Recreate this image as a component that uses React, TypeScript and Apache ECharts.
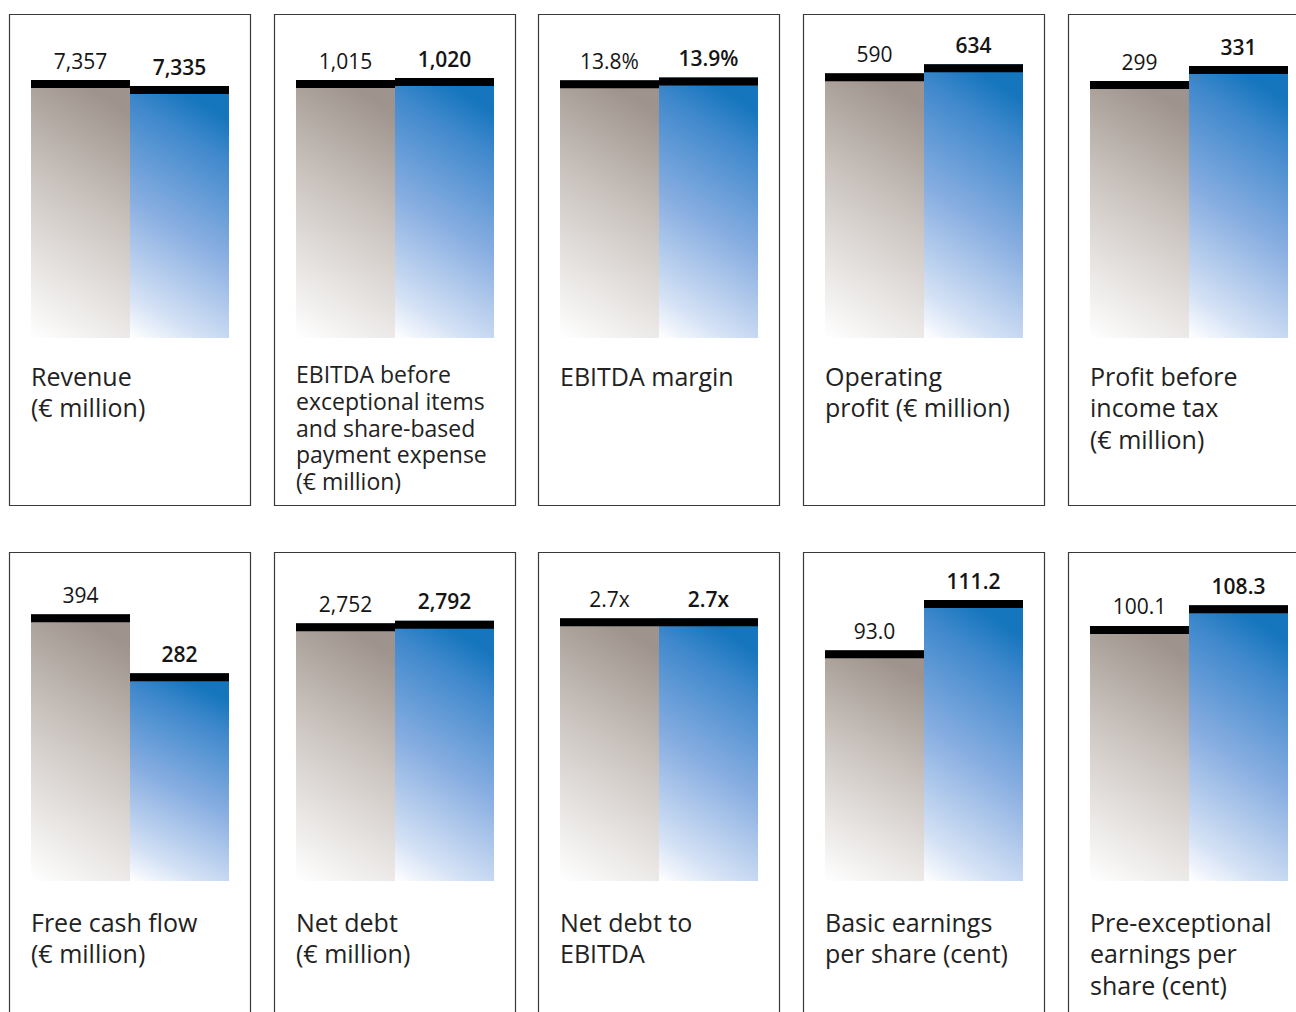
import React, { useEffect, useRef } from 'react';
import * as echarts from 'echarts';

// ---- data ----
const panelTitles = [
  'Revenue\n(€ million)',
  'EBITDA before\nexceptional items\nand share-based\npayment expense\n(€ million)',
  'EBITDA margin',
  'Operating\nprofit (€ million)',
  'Profit before\nincome tax\n(€ million)',
  'Free cash flow\n(€ million)',
  'Net debt\n(€ million)',
  'Net debt to\nEBITDA',
  'Basic earnings\nper share (cent)',
  'Pre-exceptional\nearnings per\nshare (cent)',
];
const periods = ['Prior year', 'Current year'];
const priorValues = [7357, 1015, 13.8, 590, 299, 394, 2752, 2.7, 93.0, 100.1];
const currentValues = [7335, 1020, 13.9, 634, 331, 282, 2792, 2.7, 111.2, 108.3];
const valueDecimals = [0, 0, 1, 0, 0, 0, 0, 1, 1, 1];
const valueSuffix = ['', '', '%', '', '', '', '', 'x', '', ''];
// per-panel value-axis range (each panel has its own scale)
const axisMin = [6411, 370, 4.25, -704, -249, -112, -1213, 0, 9.5, -0.9];
const axisMax = [7599, 1180, 16.25, 880, 442, 512, 3849, 3.38, 128.6, 129.4];

// ---- layout ----
const panelLeft = [9, 274, 538, 803, 1068];
const rowTop = [14, 552];
const rowGridHeight = [324, 329];
const titleTop = [360, 906];
const FONT = '"Open Sans", "Noto Sans", sans-serif';

const fmt = (v: number, i: number) =>
  v.toLocaleString('en-US', {
    minimumFractionDigits: valueDecimals[i],
    maximumFractionDigits: valueDecimals[i],
  }) + valueSuffix[i];

const greyStops = [
  { offset: 0, color: '#ffffff' },
  { offset: 0.5, color: '#d3cdc9' },
  { offset: 1, color: '#9f948d' },
];
const blueStops = [
  { offset: 0, color: '#ffffff' },
  { offset: 0.15, color: '#d5e2f5' },
  { offset: 0.5, color: '#88aee1' },
  { offset: 0.85, color: '#3f88cc' },
  { offset: 1, color: '#1575bd' },
];

export default function App() {
  const ref = useRef<HTMLDivElement>(null);
  useEffect(() => {
    if (!ref.current) return;
    const chart = echarts.init(ref.current, null, { renderer: 'svg' });
    const grids: any[] = [];
    const xAxes: any[] = [];
    const yAxes: any[] = [];
    const series: any[] = [];
    const graphics: any[] = [];
    panelTitles.forEach((title, i) => {
      const row = Math.floor(i / 5);
      const col = i % 5;
      const pl = panelLeft[col];
      grids.push({
        left: pl + 22,
        top: rowTop[row],
        width: 198,
        height: rowGridHeight[row],
        containLabel: false,
      });
      xAxes.push({
        type: 'category',
        gridIndex: i,
        data: periods,
        show: false,
        boundaryGap: true,
      });
      yAxes.push({
        type: 'value',
        gridIndex: i,
        min: axisMin[i],
        max: axisMax[i],
        show: false,
        splitLine: { show: false },
      });
      const yMin = axisMin[i];
      series.push({
        type: 'custom',
        xAxisIndex: i,
        yAxisIndex: i,
        data: [
          [0, priorValues[i]],
          [1, currentValues[i]],
        ],
        renderItem: (params: any, api: any) => {
          const idx = api.value(0);
          const val = api.value(1);
          const top = api.coord([idx, val]);
          const base = api.coord([idx, yMin]);
          const w = api.size([1, 0])[0];
          const x = top[0] - w / 2;
          const cur = idx === 1;
          return {
            type: 'group',
            children: [
              {
                type: 'rect',
                shape: { x, y: top[1], width: w, height: base[1] - top[1] },
                style: {
                  fill: new echarts.graphic.LinearGradient(0, 1, 0.25, -0.05, cur ? blueStops : greyStops),
                },
              },
              {
                type: 'rect',
                shape: { x, y: top[1], width: w, height: 8 },
                style: { fill: '#000000' },
              },
              {
                type: 'text',
                x: top[0],
                y: top[1] - 9,
                style: {
                  text: fmt(val, i),
                  align: 'center',
                  verticalAlign: 'bottom',
                  font: `${cur ? '600' : 'normal'} 21px ${FONT}`,
                  fill: '#151515',
                },
              },
            ],
          };
        },
      });
      graphics.push({
        type: 'rect',
        shape: { x: pl + 0.5, y: rowTop[row] + 0.5, width: 241, height: row === 0 ? 491 : 520 },
        style: { fill: 'none', stroke: '#3a3a3a', lineWidth: 1.2 },
        z: 10,
      });
      graphics.push({
        type: 'text',
        x: pl + 22,
        y: i === 1 ? titleTop[row] + 1 : titleTop[row],
        style: {
          text: title,
          font: i === 1 ? `normal 23px ${FONT}` : `normal 25px ${FONT}`,
          lineHeight: i === 1 ? 26.7 : 31.5,
          fill: '#222222',
          align: 'left',
          verticalAlign: 'top',
        },
        z: 10,
      });
    });
    chart.setOption({
      animation: false,
      backgroundColor: '#ffffff',
      grid: grids,
      xAxis: xAxes,
      yAxis: yAxes,
      series,
      graphic: graphics,
    });
    return () => chart.dispose();
  }, []);
  return (
    <div
      ref={ref}
      style={{ position: 'absolute', left: 0, top: 0, width: 1296, height: 1012 }}
    />
  );
}
